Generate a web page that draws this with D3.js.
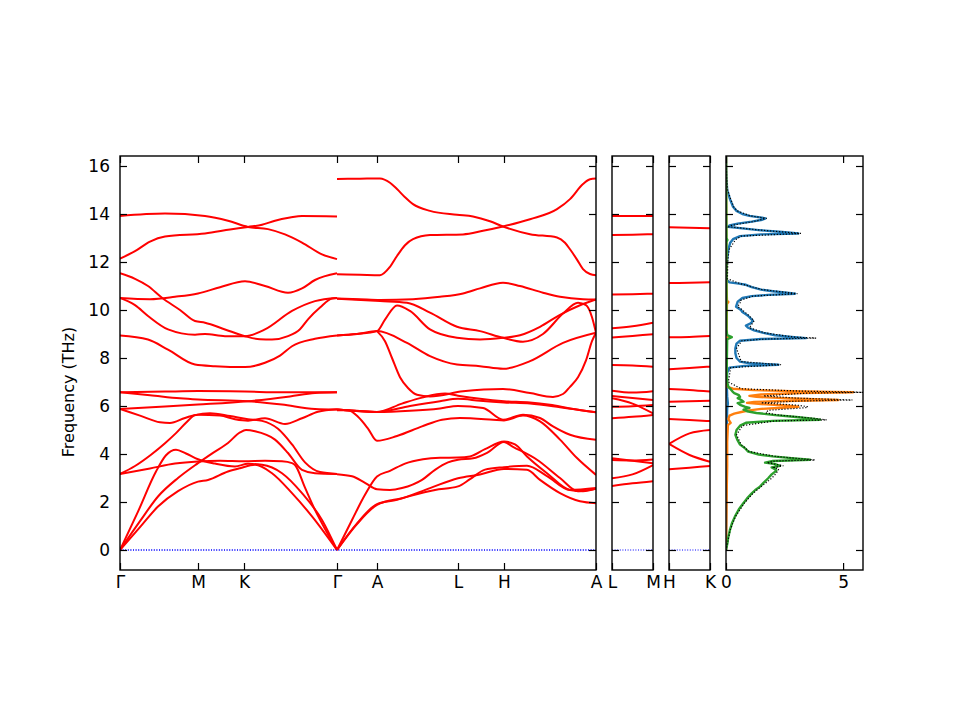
<!DOCTYPE html>
<html><head><meta charset="utf-8">
<script src="https://cdn.jsdelivr.net/npm/d3@7"></script>
<style>body{margin:0;background:#fff}</style>
</head><body><svg id="c" width="960" height="720" xmlns="http://www.w3.org/2000/svg"></svg>
<script>
// ---------- DATA ----------
const freqTicks = [0, 2, 4, 6, 8, 10, 12, 14, 16];
const kTickLabels = ["Γ", "M", "K", "Γ", "A", "L", "H", "A"];
const kTicks = [0, 0.78, 1.24, 2.17, 2.57, 3.38, 3.84, 4.76];
const lmLabels = ["L", "M"];
const hkLabels = ["H", "K"];
const dosTicks = [0, 5];

// Γ-M-K-Γ segment : [k, THz]
const bandsGMKG = [
 [[0,13.92],[0.45,14.02],[0.85,13.92],[1.08,13.72],[1.28,13.46],[1.48,13.37],[1.65,13.15],[1.82,12.81],[2.02,12.32],[2.17,12.12]],
 [[0,12.14],[0.15,12.45],[0.30,12.85],[0.45,13.06],[0.85,13.19],[1.10,13.35],[1.28,13.46],[1.42,13.55],[1.55,13.72],[1.70,13.85],[1.82,13.92],[2.17,13.9]],
 [[0,11.53],[0.15,11.3],[0.28,11.0],[0.42,10.51],[0.60,10.0],[0.75,9.54],[0.85,9.47],[1.05,9.19],[1.25,8.91],[1.40,8.78],[1.52,8.77],[1.68,8.91],[1.80,9.2],[1.88,9.61],[2.00,10.1],[2.12,10.48],[2.17,10.5]],
 [[0,10.5],[0.30,10.45],[0.55,10.55],[0.78,10.69],[1.00,10.95],[1.25,11.2],[1.45,11.0],[1.68,10.72],[1.82,10.9],[1.95,11.25],[2.17,11.53]],
 [[0,10.5],[0.15,10.2],[0.28,9.75],[0.48,9.19],[0.75,8.97],[0.85,9.0],[1.05,8.91],[1.25,8.91],[1.45,9.19],[1.72,9.96],[1.95,10.37],[2.17,10.5]],
 [[0,8.94],[0.28,8.77],[0.48,8.35],[0.75,7.73],[0.95,7.66],[1.25,7.62],[1.45,7.8],[1.60,8.1],[1.72,8.49],[1.95,8.8],[2.17,8.94]],
 [[0,6.57],[0.45,6.6],[0.78,6.62],[1.25,6.6],[1.62,6.57],[2.17,6.57]],
 [[0,6.57],[0.30,6.45],[0.60,6.32],[0.78,6.27],[1.28,6.2],[1.62,6.06],[1.95,5.87],[2.17,5.85]],
 [[0,5.88],[0.45,5.98],[0.78,6.06],[1.28,6.2],[1.70,6.4],[1.95,6.54],[2.17,6.57]],
 [[0,5.88],[0.20,5.6],[0.40,5.32],[0.50,5.29],[0.65,5.5],[0.78,5.64],[1.00,5.6],[1.15,5.45],[1.28,5.39],[1.45,5.49],[1.65,5.25],[1.82,5.49],[1.98,5.76],[2.17,5.86]],
 [[0,3.17],[0.15,3.5],[0.31,3.97],[0.45,4.45],[0.56,4.87],[0.66,5.3],[0.75,5.62],[0.90,5.7],[1.10,5.58],[1.28,5.45],[1.42,5.38],[1.58,5.05],[1.72,4.4],[1.85,3.65],[2.00,3.25],[2.17,3.17]],
 [[0,0],[0.18,1.6],[0.36,3.27],[0.46,3.95],[0.56,4.18],[0.66,4.02],[0.78,3.78],[0.95,3.6],[1.15,3.48],[1.28,3.59],[1.42,3.55],[1.62,3.2],[1.82,2.37],[2.02,1.25],[2.17,0]],
 [[0,0],[0.20,1.2],[0.38,2.23],[0.58,3.0],[0.78,3.62],[0.93,4.05],[1.08,4.46],[1.20,4.9],[1.26,5.0],[1.35,4.95],[1.55,4.6],[1.68,4.04],[1.82,3.34],[1.95,3.2],[2.17,3.17]],
 [[0,0],[0.20,0.95],[0.38,1.81],[0.58,2.45],[0.78,2.85],[0.88,2.92],[1.08,3.27],[1.20,3.41],[1.35,3.55],[1.52,3.2],[1.72,2.37],[1.92,1.4],[2.17,0]],
 [[0,3.17],[0.30,3.4],[0.55,3.6],[0.78,3.69],[1.00,3.72],[1.24,3.7],[1.45,3.72],[1.62,3.7],[1.72,3.62],[1.75,3.54],[1.85,2.6],[1.95,1.67],[2.06,0.8],[2.17,0]]
];

// Γ-A-L-H-A segment : [k, THz]
const bandsGALHA = [
 [[2.17,15.46],[2.40,15.47],[2.60,15.48],[2.70,15.3],[2.77,15.04],[2.85,14.7],[2.93,14.41],[3.10,14.13],[3.37,13.97],[3.53,13.9],[3.70,13.7],[3.83,13.48],[4.10,13.16],[4.37,13.02],[4.45,12.8],[4.50,12.53],[4.57,12.1],[4.63,11.7],[4.70,11.5],[4.76,11.45]],
 [[2.17,11.49],[2.40,11.47],[2.60,11.45],[2.70,11.8],[2.77,12.25],[2.85,12.7],[2.93,12.95],[3.10,13.12],[3.43,13.15],[3.63,13.3],[3.83,13.48],[4.10,13.78],[4.37,14.2],[4.50,14.62],[4.63,15.25],[4.70,15.45],[4.76,15.48]],
 [[2.17,10.48],[2.40,10.45],[2.60,10.42],[2.93,10.45],[3.20,10.55],[3.43,10.69],[3.60,10.9],[3.83,11.14],[4.00,11.0],[4.23,10.72],[4.40,10.55],[4.63,10.45],[4.76,10.44]],
 [[2.17,8.94],[2.37,9.0],[2.57,9.12],[2.65,9.6],[2.77,10.19],[2.90,9.96],[3.10,9.19],[3.37,8.84],[3.60,8.77],[3.83,8.84],[4.00,8.95],[4.20,9.3],[4.40,9.8],[4.60,10.2],[4.76,10.44]],
 [[2.17,10.47],[2.60,10.37],[2.87,10.3],[3.10,9.89],[3.37,9.3],[3.60,9.12],[3.83,8.84],[4.03,8.68],[4.23,9.0],[4.43,9.85],[4.58,10.3],[4.66,10.2],[4.72,9.7],[4.76,9.05]],
 [[2.17,8.94],[2.37,9.0],[2.57,9.12],[2.87,8.63],[3.10,8.08],[3.37,7.73],[3.60,7.66],[3.83,7.55],[4.10,7.87],[4.43,8.63],[4.76,9.05]],
 [[2.57,9.12],[2.65,8.7],[2.72,8.0],[2.80,7.2],[2.88,6.75],[2.97,6.47],[3.10,6.4],[3.43,6.61],[3.83,6.71],[4.10,6.54],[4.33,6.38],[4.43,6.5],[4.50,6.8],[4.58,7.2],[4.66,7.9],[4.72,8.7],[4.76,9.05]],
 [[2.17,5.85],[2.37,5.8],[2.57,5.75],[2.90,5.8],[3.20,5.9],[3.38,6.0],[3.63,5.92],[3.83,5.43],[4.03,5.64],[4.20,5.5],[4.33,5.15],[4.50,4.8],[4.76,4.59]],
 [[2.17,5.82],[2.28,5.82],[2.38,5.55],[2.48,5.06],[2.57,4.55],[2.77,4.75],[3.02,5.15],[3.22,5.43],[3.40,5.5],[3.73,5.43],[3.84,5.4],[4.03,5.6],[4.20,5.36],[4.40,4.6],[4.57,3.83],[4.76,3.13]],
 [[2.17,5.85],[2.57,5.75],[2.90,6.0],[3.20,6.2],[3.38,6.3],[3.60,6.22],[3.84,6.15],[4.10,6.1],[4.40,5.95],[4.76,5.74]],
 [[2.17,5.85],[2.57,5.75],[2.82,6.1],[3.02,6.35],[3.25,6.52],[3.38,6.43],[3.60,6.3],[3.84,6.2],[4.10,6.15],[4.30,6.05],[4.50,5.9],[4.76,5.74]],
 [[2.17,0],[2.32,1.25],[2.45,2.3],[2.57,3.06],[2.70,3.3],[2.85,3.6],[3.03,3.78],[3.20,3.84],[3.38,3.85],[3.50,3.9],[3.65,4.2],[3.84,4.52],[3.95,4.4],[4.07,3.9],[4.27,3.2],[4.50,2.5],[4.63,2.45],[4.76,2.55]],
 [[2.17,3.16],[2.32,3.07],[2.45,2.8],[2.57,2.53],[2.70,2.5],[2.82,2.58],[3.02,2.92],[3.15,3.34],[3.28,3.65],[3.38,3.76],[3.53,3.82],[3.67,4.05],[3.84,4.5],[3.93,4.3],[4.17,3.76],[4.40,3.0],[4.58,2.45],[4.76,2.55]],
 [[2.17,0],[2.37,1.11],[2.57,1.91],[2.77,2.09],[3.10,2.58],[3.38,2.99],[3.60,3.15],[3.84,3.38],[4.07,3.34],[4.20,2.92],[4.40,2.37],[4.60,2.03],[4.76,1.95]],
 [[2.17,0],[2.37,1.08],[2.57,1.88],[2.82,2.16],[3.15,2.5],[3.38,2.65],[3.50,2.95],[3.65,3.35],[3.84,3.45],[4.07,3.51],[4.27,3.08],[4.50,2.5],[4.76,2.58]]
];

// L-M panel : [k, THz]
const bandsLM = [
 [[0,13.92],[0.5,13.92],[1,13.92]],
 [[0,13.13],[0.5,13.14],[1,13.16]],
 [[0,10.65],[0.5,10.66],[1,10.68]],
 [[0,9.24],[0.5,9.32],[1,9.47]],
 [[0,8.85],[0.5,8.92],[1,8.99]],
 [[0,7.71],[0.5,7.69],[1,7.64]],
 [[0,6.64],[0.5,6.56],[1,6.62]],
 [[0,6.42],[0.5,6.33],[1,6.25]],
 [[0,6.32],[0.5,6.1],[1,5.69]],
 [[0,5.97],[0.5,5.99],[1,6.04]],
 [[0,5.49],[0.5,5.55],[1,5.63]],
 [[0,3.82],[0.5,3.72],[1,3.61]],
 [[0,3.75],[0.5,3.73],[1,3.77]],
 [[0,2.99],[0.5,3.15],[1,3.54]],
 [[0,2.67],[0.5,2.78],[1,2.87]]
];

// H-K panel : [k, THz]
const bandsHK = [
 [[0,13.45],[0.5,13.43],[1,13.41]],
 [[0,11.12],[0.5,11.14],[1,11.16]],
 [[0,8.86],[0.5,8.88],[1,8.92]],
 [[0,7.53],[0.5,7.58],[1,7.64]],
 [[0,6.71],[0.5,6.67],[1,6.6]],
 [[0,6.18],[0.5,6.2],[1,6.22]],
 [[0,5.46],[0.5,5.42],[1,5.37]],
 [[0,4.42],[0.5,4.86],[1,5.0]],
 [[0,4.42],[0.5,3.96],[1,3.68]],
 [[0,3.36],[0.5,3.43],[1,3.5]]
];

// DOS : [THz, states]
const dosBlue = [[16.4,0],[15.5,0.02],[15.0,0.05],[14.62,0.17],[14.3,0.3],[14.13,0.45],[14.0,0.7],[13.92,1.0],[13.86,1.45],[13.82,1.69],[13.76,1.55],[13.68,1.1],[13.6,0.5],[13.52,0.15],[13.47,0.08],[13.42,0.5],[13.33,1.4],[13.25,2.4],[13.19,3.09],[13.15,1.5],[13.08,0.6],[12.95,0.3],[12.8,0.18],[12.53,0.1],[12.1,0.05],[11.6,0.02],[11.25,0.03],[11.15,0.15],[11.1,0.55],[11.05,0.85],[10.95,1.1],[10.85,1.5],[10.78,2.0],[10.72,2.6],[10.68,2.95],[10.63,1.8],[10.58,1.1],[10.5,0.7],[10.35,0.5],[10.14,0.43],[10.0,0.64],[9.92,0.7],[9.85,0.8],[9.75,0.95],[9.65,1.05],[9.55,1.15],[9.44,1.05],[9.35,0.85],[9.26,0.95],[9.15,1.2],[9.05,1.6],[8.95,2.1],[8.88,2.8],[8.83,3.42],[8.79,1.5],[8.72,0.6],[8.6,0.45],[8.4,0.4],[8.2,0.4],[8.0,0.45],[7.85,0.6],[7.78,1.0],[7.72,2.24],[7.67,0.8],[7.6,0.15],[7.4,0.05],[7.0,0.03],[6.4,0.05],[6.1,0.08],[5.9,0.05],[5.0,0.03],[3.0,0.02],[0,0]];
const dosOrange = [[16.4,0],[11.0,0.02],[10.4,0.04],[10.33,0.1],[10.25,0.04],[9.0,0.02],[8.88,0.08],[8.75,0.02],[7.0,0.02],[6.8,0.06],[6.72,0.3],[6.66,1.2],[6.62,2.8],[6.59,4.5],[6.57,5.43],[6.54,3.2],[6.48,1.5],[6.42,1.0],[6.38,1.3],[6.33,2.5],[6.28,3.8],[6.25,4.8],[6.21,2.5],[6.17,1.2],[6.13,0.9],[6.08,1.5],[6.03,2.4],[5.97,3.09],[5.93,2.4],[5.88,1.5],[5.82,1.0],[5.76,0.7],[5.68,0.35],[5.6,0.15],[5.45,0.1],[5.3,0.2],[5.2,0.08],[4.5,0.05],[3.5,0.05],[2.5,0.03],[1.5,0.02],[0,0]];
const dosGreen = [[16.4,0],[13.0,0.02],[12.92,0.06],[12.84,0.02],[9.2,0.02],[8.95,0.05],[8.87,0.25],[8.78,0.05],[7.5,0.03],[7.0,0.05],[6.8,0.1],[6.7,0.2],[6.6,0.28],[6.54,0.35],[6.45,0.55],[6.38,0.6],[6.33,0.5],[6.25,0.65],[6.18,0.75],[6.12,0.5],[6.05,0.6],[5.97,0.8],[5.92,1.0],[5.85,0.75],[5.78,0.9],[5.71,1.3],[5.62,2.1],[5.54,3.0],[5.48,3.6],[5.43,4.02],[5.38,2.0],[5.3,0.85],[5.18,0.6],[5.0,0.45],[4.8,0.4],[4.6,0.48],[4.39,0.6],[4.25,0.8],[4.1,0.95],[3.98,1.4],[3.9,2.0],[3.83,2.8],[3.76,3.59],[3.71,2.0],[3.64,1.67],[3.58,2.1],[3.51,2.31],[3.44,1.95],[3.37,2.09],[3.3,2.15],[3.15,1.95],[2.99,1.8],[2.8,1.6],[2.64,1.45],[2.5,1.25],[2.36,1.1],[2.15,0.9],[1.95,0.74],[1.7,0.55],[1.39,0.38],[1.1,0.25],[0.84,0.17],[0.5,0.09],[0.28,0.06],[0,0]];
const dosTotal = [[16.4,0],[15.5,0.03],[15.0,0.07],[14.62,0.2],[14.3,0.33],[14.13,0.48],[13.92,1.05],[13.82,1.74],[13.68,1.15],[13.52,0.2],[13.47,0.12],[13.33,1.45],[13.19,3.2],[13.08,0.65],[12.92,0.4],[12.53,0.14],[12.1,0.08],[11.3,0.06],[11.1,0.6],[10.85,1.55],[10.68,3.05],[10.58,1.15],[10.4,0.62],[10.33,0.62],[10.14,0.5],[10.0,0.7],[9.75,1.0],[9.55,1.2],[9.26,1.0],[9.05,1.65],[8.87,2.9],[8.83,3.85],[8.79,1.7],[8.72,0.68],[8.4,0.45],[7.85,0.65],[7.72,2.35],[7.6,0.2],[7.0,0.1],[6.72,0.65],[6.62,3.2],[6.57,5.85],[6.54,3.5],[6.42,1.6],[6.33,3.0],[6.25,5.4],[6.21,3.2],[6.13,1.5],[6.03,3.1],[5.97,3.5],[5.93,3.4],[5.82,1.8],[5.71,1.7],[5.62,2.3],[5.48,3.8],[5.42,4.3],[5.38,2.1],[5.18,0.7],[4.8,0.45],[4.39,0.65],[4.1,1.0],[3.9,2.1],[3.75,3.8],[3.71,2.1],[3.64,1.75],[3.51,2.45],[3.44,2.05],[3.37,2.25],[3.2,2.15],[2.99,1.95],[2.64,1.5],[2.36,1.15],[1.95,0.78],[1.39,0.4],[0.84,0.18],[0.28,0.06],[0,0]];

// ---------- DRAWING ----------
const svg = d3.select("#c");
const FONT = "DejaVu Sans, sans-serif";
const TICKFONT = 17;
const yTop = 156, yBot = 570;
const y = d3.scaleLinear().domain([-0.8333, 16.4167]).range([yBot, yTop]);

function makePanel(x0, x1, dom) {
  const x = d3.scaleLinear().domain(dom).range([x0, x1]);
  const id = "clip" + x0;
  svg.append("clipPath").attr("id", id).append("rect")
    .attr("x", x0).attr("y", yTop).attr("width", x1 - x0).attr("height", yBot - yTop);
  const plot = svg.append("g").attr("clip-path", `url(#${id})`);
  return { x, plot, x0, x1 };
}

function styleAxis(g, size) {
  g.select(".domain").remove();
  g.selectAll("line").attr("stroke", "#000").attr("stroke-width", 1.2);
  g.selectAll("text").attr("font-family", FONT).attr("font-size", size).attr("fill", "#000");
}

function frame(p, xTickVals, xFmt, yLabels) {
  const T = 7;
  svg.append("g").attr("transform", `translate(${p.x0},0)`)
    .call(d3.axisLeft(y).tickValues(freqTicks).tickSizeInner(-T).tickSizeOuter(0).tickPadding(10)
      .tickFormat(yLabels ? d3.format("d") : () => ""))
    .call(g => styleAxis(g, TICKFONT));
  svg.append("g").attr("transform", `translate(${p.x1},0)`)
    .call(d3.axisRight(y).tickValues(freqTicks).tickSizeInner(-T).tickSizeOuter(0).tickFormat(() => ""))
    .call(g => styleAxis(g, TICKFONT));
  svg.append("g").attr("transform", `translate(0,${yBot})`)
    .call(d3.axisBottom(p.x).tickValues(xTickVals).tickSizeInner(-T).tickSizeOuter(0).tickPadding(6).tickFormat(xFmt))
    .call(g => styleAxis(g, TICKFONT));
  svg.append("g").attr("transform", `translate(0,${yTop})`)
    .call(d3.axisTop(p.x).tickValues(xTickVals).tickSizeInner(-T).tickSizeOuter(0).tickFormat(() => ""))
    .call(g => styleAxis(g, TICKFONT));
  svg.append("rect").attr("x", p.x0).attr("y", yTop).attr("width", p.x1 - p.x0).attr("height", yBot - yTop)
    .attr("fill", "none").attr("stroke", "#000").attr("stroke-width", 1.4);
}

function drawBands(p, bands) {
  const line = d3.line().x(d => p.x(d[0])).y(d => y(d[1])).curve(d3.curveMonotoneX);
  p.plot.selectAll(null).data(bands).enter().append("path")
    .attr("d", line).attr("fill", "none").attr("stroke", "#ff0000").attr("stroke-width", 2)
    .attr("stroke-linejoin", "round");
  p.plot.append("line").attr("x1", p.x0).attr("x2", p.x1).attr("y1", y(0)).attr("y2", y(0))
    .attr("stroke", "#0000ff").attr("stroke-width", 1).attr("stroke-dasharray", "1,1.6");
}

// main panel
const mainP = makePanel(120, 596, [0, 4.76]);
drawBands(mainP, bandsGMKG);
drawBands(mainP, bandsGALHA);
frame(mainP, kTicks, (d, i) => kTickLabels[i], true);

// L-M
const pLM = makePanel(612, 653, [0, 1]);
drawBands(pLM, bandsLM);
frame(pLM, [0, 1], (d, i) => lmLabels[i], false);

// H-K
const pHK = makePanel(669, 710, [0, 1]);
drawBands(pHK, bandsHK);
frame(pHK, [0, 1], (d, i) => hkLabels[i], false);

// DOS
const pD = makePanel(726, 863, [0, 5.85]);
const dline = d3.line().x(d => pD.x(d[1])).y(d => y(d[0]));
[[dosBlue, "#1f77b4"], [dosOrange, "#ff7f0e"], [dosGreen, "#2ca02c"]].forEach(([dat, col]) => {
  pD.plot.append("path").attr("d", dline(dat)).attr("fill", "none").attr("stroke", col)
    .attr("stroke-width", 2.4).attr("stroke-linejoin", "round");
});
pD.plot.append("path").attr("d", dline(dosTotal)).attr("fill", "none").attr("stroke", "#000")
  .attr("stroke-width", 1.2).attr("stroke-dasharray", "1.2,1.8");
frame(pD, dosTicks, d3.format("d"), false);

// y label
svg.append("text").attr("transform", "translate(74,392) rotate(-90)")
  .attr("text-anchor", "middle").attr("font-family", FONT).attr("font-size", 16).attr("fill", "#000")
  .text("Frequency (THz)");
</script>
</body></html>
